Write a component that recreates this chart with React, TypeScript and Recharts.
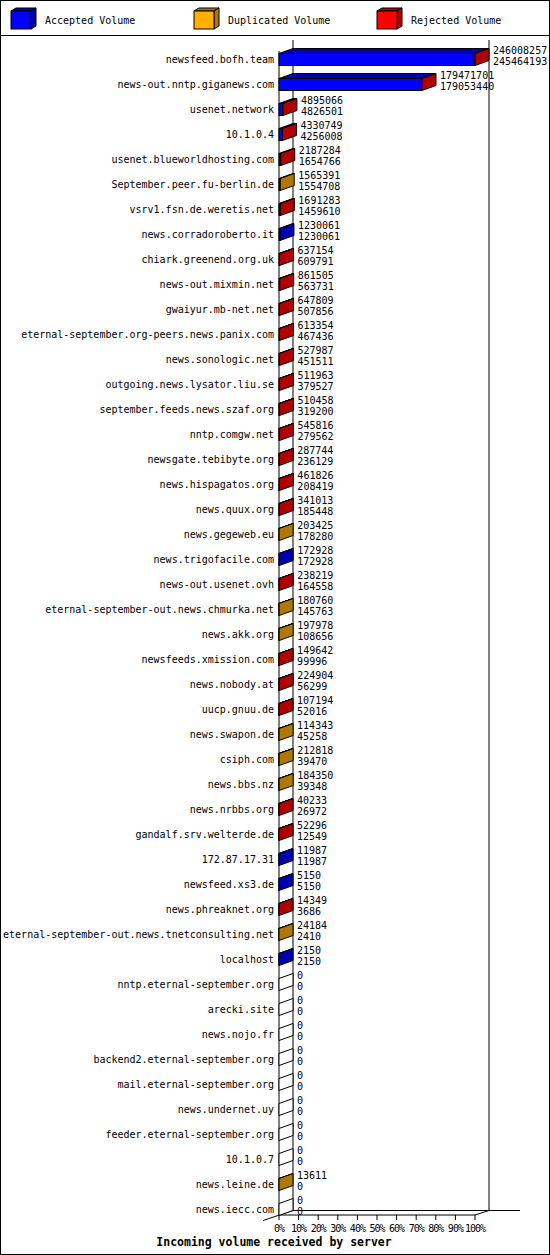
import { BarChart, Bar, XAxis, YAxis, LabelList, Customized } from "recharts"

const SERVERS = [
    "newsfeed.bofh.team",
    "news-out.nntp.giganews.com",
    "usenet.network",
    "10.1.0.4",
    "usenet.blueworldhosting.com",
    "September.peer.fu-berlin.de",
    "vsrv1.fsn.de.weretis.net",
    "news.corradoroberto.it",
    "chiark.greenend.org.uk",
    "news-out.mixmin.net",
    "gwaiyur.mb-net.net",
    "eternal-september.org-peers.news.panix.com",
    "news.sonologic.net",
    "outgoing.news.lysator.liu.se",
    "september.feeds.news.szaf.org",
    "nntp.comgw.net",
    "newsgate.tebibyte.org",
    "news.hispagatos.org",
    "news.quux.org",
    "news.gegeweb.eu",
    "news.trigofacile.com",
    "news-out.usenet.ovh",
    "eternal-september-out.news.chmurka.net",
    "news.akk.org",
    "newsfeeds.xmission.com",
    "news.nobody.at",
    "uucp.gnuu.de",
    "news.swapon.de",
    "csiph.com",
    "news.bbs.nz",
    "news.nrbbs.org",
    "gandalf.srv.welterde.de",
    "172.87.17.31",
    "newsfeed.xs3.de",
    "news.phreaknet.org",
    "eternal-september-out.news.tnetconsulting.net",
    "localhost",
    "nntp.eternal-september.org",
    "arecki.site",
    "news.nojo.fr",
    "backend2.eternal-september.org",
    "mail.eternal-september.org",
    "news.undernet.uy",
    "feeder.eternal-september.org",
    "10.1.0.7",
    "news.leine.de",
    "news.iecc.com"
]

const ACCEPTED = [
    245464193, 179053440, 4826501, 4256008, 1654766, 1554708, 1459610, 1230061,
    609791, 563731, 507856, 467436, 451511, 379527, 319200, 279562,
    236129, 208419, 185448, 178280, 172928, 164558, 145763, 108656,
    99996, 56299, 52016, 45258, 39470, 39348, 26972, 12549,
    11987, 5150, 3686, 2410, 2150, 0, 0, 0,
    0, 0, 0, 0, 0, 0, 0
]

const DUPLICATED = [
    0, 0, 0, 0, 0, 10683, 0, 0,
    0, 0, 0, 0, 0, 0, 0, 0,
    0, 0, 0, 25145, 0, 0, 34997, 89322,
    0, 0, 0, 69085, 173348, 145002, 0, 0,
    0, 0, 0, 21774, 0, 0, 0, 0,
    0, 0, 0, 0, 0, 13611, 0
]

const REJECTED = [
    544064, 418261, 68565, 74741, 532518, 0, 231673, 0,
    27363, 297774, 139953, 145918, 76476, 132436, 191258, 266254,
    51615, 253407, 155565, 0, 0, 73661, 0, 0,
    49646, 168605, 55178, 0, 0, 0, 13261, 39747,
    0, 0, 10663, 0, 0, 0, 0, 0,
    0, 0, 0, 0, 0, 0, 0
]

const PCT_TICKS = [0, 10, 20, 30, 40, 50, 60, 70, 80, 90, 100]
const PCT_LABELS = ["0%", "10%", "20%", "30%", "40%", "50%", "60%", "70%", "80%", "90%", "100%"]

const SERIES = [
    { key: "accepted", name: "Accepted Volume", front: "#0000ff", dark: "#0000b0" },
    { key: "duplicated", name: "Duplicated Volume", front: "#ffb000", dark: "#b07800" },
    { key: "rejected", name: "Rejected Volume", front: "#ff0000", dark: "#b00000" }
]

const TITLE = "Incoming volume received by server"

const W = 550
const H = 1255
const LEFT = 279
const RIGHT = 475
const TOP = 46.5
const ROW = 25
const DX = 14
const DY = 5
const FLOOR = 1215
const BACK_FLOOR = 1210.5
const FONT = "'DejaVu Sans Mono', monospace"

const rows = SERVERS.map((name, i) => ({
    name,
    accepted: ACCEPTED[i],
    duplicated: DUPLICATED[i],
    rejected: REJECTED[i],
    total: ACCEPTED[i] + DUPLICATED[i] + REJECTED[i]
}))

const MAX = Math.max(...rows.map(r => r.total))

function makeShape(si: number) {
    return (props: any) => {
        const { x, y, width, height, payload } = props
        const vals = [payload.accepted, payload.duplicated, payload.rejected]
        let last = -1
        vals.forEach((v, i) => { if (v > 0) last = i })
        const s = SERIES[si]
        const end = x + width
        return (
            <g>
                {vals[si] > 0 && (
                    <>
                        <polygon
                            points={`${x},${y} ${x + DX},${y - DY} ${end + DX},${y - DY} ${end},${y}`}
                            fill={s.dark} stroke="#000" strokeWidth={1}
                        />
                        <rect x={x} y={y} width={width} height={height} fill={s.front} stroke="#000" strokeWidth={1} />
                    </>
                )}
                {last === si && (
                    <polygon
                        points={`${end},${y} ${end + DX},${y - DY} ${end + DX},${y + height - DY} ${end},${y + height}`}
                        fill={s.dark} stroke="#000" strokeWidth={1}
                    />
                )}
                {last === -1 && si === 0 && (
                    <polygon
                        points={`${x},${y} ${x + DX},${y - DY} ${x + DX},${y + height - DY} ${x},${y + height}`}
                        fill="#fff" stroke="#000" strokeWidth={1}
                    />
                )}
            </g>
        )
    }
}

function ValueLabel(props: any) {
    const { x, y, width, height, index } = props
    const r = rows[index]
    const lx = x + width + 18
    const cy = y + height / 2
    return (
        <g fontFamily={FONT} fontSize={10} fill="#000">
            <text x={lx} y={cy - 9} dominantBaseline="central">{r.total}</text>
            <text x={lx} y={cy + 2} dominantBaseline="central">{r.accepted}</text>
        </g>
    )
}

function PctTick(props: any) {
    const { x, index } = props
    return (
        <g>
            <line x1={x} y1={FLOOR} x2={x} y2={FLOOR + 5} stroke="#000" />
            <text x={x} y={FLOOR + 13} textAnchor="middle" dominantBaseline="central"
                fontFamily={FONT} fontSize={10} letterSpacing={-1} fill="#000">
                {PCT_LABELS[index]}
            </text>
        </g>
    )
}

function ServerTick(props: any) {
    const { x, y, payload } = props
    return (
        <text x={x} y={y + 0.5} textAnchor="end" dominantBaseline="central"
            fontFamily={FONT} fontSize={10} fill="#000">
            {payload.value}
        </text>
    )
}

function Frame() {
    return (
        <g>
            <rect x={0.5} y={0.5} width={W - 1} height={H - 1} fill="#fff" stroke="#000" />
            <line x1={0} y1={35.5} x2={W} y2={35.5} stroke="#000" />
            {SERIES.map((s, i) => {
                const bx = 11 + i * 183
                return (
                    <g key={s.key}>
                        <polygon points={`${bx},11 ${bx + 5},8 ${bx + 25},8 ${bx + 20},11`} fill={s.dark} stroke="#000" />
                        <polygon points={`${bx + 20},11 ${bx + 25},8 ${bx + 25},26 ${bx + 20},29`} fill={s.dark} stroke="#000" />
                        <rect x={bx} y={11} width={20} height={18} fill={s.front} stroke="#000" />
                        <text x={bx + 34} y={20} dominantBaseline="central" fontFamily={FONT} fontSize={10} fill="#000">
                            {s.name}
                        </text>
                    </g>
                )
            })}
            <line x1={LEFT + DX} y1={40} x2={LEFT + DX} y2={BACK_FLOOR} stroke="#000" />
            <line x1={RIGHT + DX} y1={40} x2={RIGHT + DX} y2={BACK_FLOOR} stroke="#000" />
            <line x1={LEFT + DX} y1={BACK_FLOOR} x2={520} y2={BACK_FLOOR} stroke="#000" />
            <line x1={LEFT - 16} y1={FLOOR + 5.5} x2={LEFT + DX} y2={BACK_FLOOR} stroke="#000" />
            <line x1={RIGHT} y1={FLOOR} x2={RIGHT + DX} y2={BACK_FLOOR} stroke="#000" />
            <line x1={LEFT} y1={FLOOR} x2={RIGHT} y2={FLOOR} stroke="#000" />
            <line x1={LEFT} y1={51} x2={LEFT} y2={FLOOR} stroke="#000" />
            <text x={274} y={1242} textAnchor="middle" dominantBaseline="central"
                fontFamily={FONT} fontSize={11.5} fontWeight="bold" fill="#000">
                {TITLE}
            </text>
        </g>
    )
}

export default function App() {
    return (
        <div style={{ width: W, height: H }}>
            <style>{`body{margin:0}`}</style>
            <BarChart
                width={W}
                height={H}
                data={rows}
                layout="vertical"
                barSize={12}
                margin={{ top: TOP, right: W - RIGHT, bottom: H - TOP - ROW * rows.length - 20, left: 0 }}
            >
                <Customized component={Frame} />
                <XAxis
                    type="number"
                    domain={[0, MAX]}
                    ticks={PCT_TICKS.map(p => (MAX * p) / 100)}
                    height={20}
                    axisLine={false}
                    tickLine={false}
                    tick={<PctTick />}
                    interval={0}
                />
                <YAxis
                    type="category"
                    dataKey="name"
                    width={LEFT}
                    axisLine={false}
                    tickLine={false}
                    tickSize={0}
                    tickMargin={5}
                    interval={0}
                    tick={<ServerTick />}
                />
                {SERIES.map((s, si) => (
                    <Bar
                        key={s.key}
                        dataKey={s.key}
                        name={s.name}
                        stackId="vol"
                        fill={s.front}
                        isAnimationActive={false}
                        shape={makeShape(si)}
                    >
                        {si === SERIES.length - 1 && (
                            <LabelList dataKey="total" content={<ValueLabel />} />
                        )}
                    </Bar>
                ))}
            </BarChart>
        </div>
    )
}
